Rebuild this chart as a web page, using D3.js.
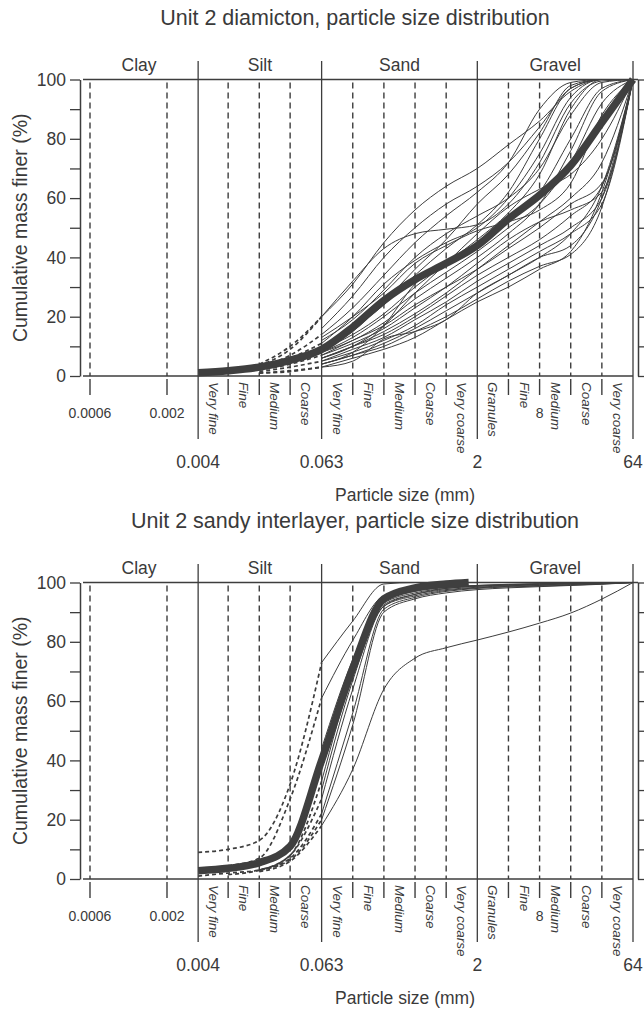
<!DOCTYPE html>
<html>
<head>
<meta charset="utf-8">
<script src="https://cdn.jsdelivr.net/npm/d3@7"></script>
<style>
body { margin: 0; background: #fff; }
text { font-family: "Liberation Sans", Arial, sans-serif; fill: #3a3a3a; }
</style>
</head>
<body>
<script>
var width = 644,
    height = 1009;

// sieve sizes (mm) the curves are read at
var sizes = [0.004, 0.0078, 0.0156, 0.031, 0.0625, 0.125, 0.25, 0.5, 1, 2, 4, 8, 16, 32, 64];

// unit 2 diamicton, cumulative % finer (null = not measured)
var diamictonSamples = [
  [null, null, 4, 10, 20, 32, 43, 48, 49.5, 51, 58, 72, 92, 99.5, 100],
  [null, null, 3.5, 9, 20, 31, 45, 56, 64, 70, 78, 86, 96, 100, 100],
  [null, null, 3, 7, 14, 23, 34, 45, 54, 62, 72, 90, 99, 100, 100],
  [null, null, null, null, 12, 19, 29, 40, 48, 54, 60, 70, 88, 99, 100],
  [null, null, null, null, 10, 16, 24, 34, 43, 51, 62, 80, 97, 100, 100],
  [null, null, null, null, 9, 14, 21, 30, 38, 46, 55, 68, 90, 100, 100],
  [null, null, null, null, 8, 13, 20, 28, 35, 42, 50, 58, 72, 92, 100],
  [null, null, null, null, 8, 12, 18, 26, 33, 40, 48, 58, 76, 96, 100],
  [null, null, 2, 4, 7, 12, 17, 24, 30, 36, 43, 50, 58, 65, 100],
  [null, null, null, null, 7, 11, 16, 23, 30, 38, 46, 52, 56, 62, 100],
  [null, null, null, null, 6, 10, 15, 21, 28, 36, 44, 52, 60, 72, 100],
  [null, null, null, null, 6, 10, 14, 20, 27, 34, 40, 46, 54, 64, 100],
  [null, null, null, null, 5, 9, 13, 19, 25, 32, 38, 44, 50, 60, 100],
  [null, null, 1.5, 3, 5, 8, 12, 17, 24, 30, 36, 42, 48, 58, 100],
  [null, null, null, null, 4, 7, 11, 16, 22, 28, 34, 40, 44, 60, 100],
  [null, null, null, null, 4, 7, 10, 15, 20, 26, 32, 37, 41, 57, 100],
  [null, null, 1, 1.5, 3, 6, 9, 13, 19, 25, 30, 36, 42, 62, 100],
  [null, null, 1, 1.8, 3, 5, 12.5, 15, 19, 28, 34, 40, 48, 64, 100],
  [null, null, null, null, 4, 8, 17, 31, 38, 44, 52, 62, 80, 97, 100],
  [null, null, 2.5, 6, 11, 20, 31, 39, 45, 50, 60, 75, 94, 100, 100],
  [null, null, null, null, 9, 15, 25, 36, 46, 58, 68, 82, 98, 100, 100],
  [null, null, null, null, 6, 10, 17, 28, 38, 48, 57, 63, 68, 80, 100],
  [null, null, null, null, 16, 27, 40, 50, 58, 64, 72, 84, 97, 100, 100],
  [null, null, null, null, 13, 20, 28, 38, 44, 49, 52, 56, 65, 88, 100]
];
var diamictonMeanSizes = [0.004, 0.0078, 0.0156, 0.031, 0.0625, 0.125, 0.25, 0.5, 1, 2, 4, 8, 16, 32, 64];
var diamictonMean = [1.1, 1.8, 3, 5.3, 9, 16.5, 25.5, 32.5, 38, 44, 53, 61, 71, 85.5, 100];

// unit 2 sandy interlayer
var sandySamples = [
  [9, 10, 13, 32, 73, 87, 99.5, 100, 100, 100, 100, 100, 100, 100, 100],
  [null, 4.5, 7, 27, 61, 80.5, 95.5, 97.5, 98.5, 99, 99.4, 99.6, 99.8, 99.9, 100],
  [null, null, null, null, 44, 74, 94, 97, 98.3, 99, 99.3, 99.5, 99.7, 99.9, 100],
  [null, null, null, null, 40, 71, 93, 96.5, 98, 98.7, 99.1, 99.4, 99.6, 99.8, 100],
  [null, null, 3, 8, 33, 69, 92.5, 96, 97.6, 98.4, 98.9, 99.2, 99.5, 99.7, 100],
  [null, 1.5, 3, 8, 27, 64, 92, 95.5, 97.3, 98.2, 98.7, 99, 99.3, 99.6, 100],
  [null, null, 3, 7, 22, 56, 91, 95, 97, 98, 98.5, 98.8, 99.1, 99.5, 100],
  [1, 2, 3, 6.5, 20, 52, 90, 94.5, 96.5, 97.6, 98.2, 98.6, 99, 99.4, 100],
  [null, null, 2.5, 6, 18, 37, 64, 74.5, 78, 80.6, 83.3, 86.3, 89.7, 94.4, 100],
  [null, null, null, null, 30, 67, 92, 96, 98, 98.8, 99.2, 99.5, 99.7, 99.9, 100]
];
var sandyMeanSizes = [0.004, 0.0078, 0.0156, 0.031, 0.0625, 0.125, 0.25, 0.5, 1, 1.65];
var sandyMean = [2.8, 3.6, 5.5, 11, 40, 71, 94.5, 98.2, 99.5, 100];

// grain size classes
var classNames = ["Clay", "Silt", "Sand", "Gravel"];
var classEdges = [0.004, 0.0625, 2, 64];
var dashedSizes = [0.0006, 0.002, 0.0078, 0.0156, 0.031, 0.125, 0.25, 0.5, 1, 4, 8, 16, 32];
var subBins = [
  [0.004, 0.0078, "Very fine"], [0.0078, 0.0156, "Fine"], [0.0156, 0.031, "Medium"], [0.031, 0.0625, "Coarse"],
  [0.0625, 0.125, "Very fine"], [0.125, 0.25, "Fine"], [0.25, 0.5, "Medium"], [0.5, 1, "Coarse"], [1, 2, "Very coarse"],
  [2, 4, "Granules"], [4, 8, "Fine"], [8, 16, "Medium"], [16, 32, "Coarse"], [32, 64, "Very coarse"]
];
var smallTicks = [[0.0006, "0.0006"], [0.002, "0.002"], [8, "8"]];
var mainTicks = [[0.004, "0.004"], [0.0625, "0.063"], [2, "2"], [64, "64"]];
var yTicks = [0, 10, 20, 30, 40, 50, 60, 70, 80, 90, 100];

var svg = d3.select("body").append("svg")
  .attr("width", width)
  .attr("height", height);

// the clay part of the axis is squeezed, so the log scale is piecewise
var xScale = d3.scaleLog()
  .domain([0.0006, 0.002, 64])
  .range([90, 167, 633]);
var yScale = d3.scaleLinear()
  .domain([0, 100])
  .range([376, 79.5]);

var ink = "#3d3d3d";

drawPanel(0, "Unit 2 diamicton, particle size distribution", diamictonSamples, diamictonMeanSizes, diamictonMean);
drawPanel(503, "Unit 2 sandy interlayer, particle size distribution", sandySamples, sandyMeanSizes, sandyMean);

function drawPanel(top, title, samples, meanSizes, meanValues) {
  var g = svg.append("g")
    .attr("transform", "translate(0," + top + ")");

  var x0 = 80, yTop = yScale(100), yBot = yScale(0);

  g.append("text")
    .attr("x", 355)
    .attr("y", 25)
    .attr("text-anchor", "middle")
    .style("font-size", "21.5px")
    .text(title);

  // class headers above the frame
  var edgesPx = [x0].concat(classEdges.map(function(d) { return xScale(d); }));
  g.selectAll(".head")
    .data(classNames)
    .enter().append("text")
      .attr("x", function(d, i) { return (edgesPx[i] + edgesPx[i + 1]) / 2; })
      .attr("y", 71)
      .attr("text-anchor", "middle")
      .style("font-size", "17.5px")
      .text(function(d) { return d; });

  // dashed sub-class lines
  g.selectAll(".sub")
    .data(dashedSizes)
    .enter().append("line")
      .attr("x1", function(d) { return xScale(d); })
      .attr("x2", function(d) { return xScale(d); })
      .attr("y1", yTop + 3)
      .attr("y2", yBot)
      .attr("stroke", ink)
      .attr("stroke-width", 1.4)
      .attr("stroke-dasharray", "6,4");
  g.selectAll(".subtick")
    .data(dashedSizes)
    .enter().append("line")
      .attr("x1", function(d) { return xScale(d); })
      .attr("x2", function(d) { return xScale(d); })
      .attr("y1", yBot + 3)
      .attr("y2", yBot + 19)
      .attr("stroke", ink)
      .attr("stroke-width", 1.4);

  // solid class boundaries
  g.selectAll(".edge")
    .data(classEdges)
    .enter().append("line")
      .attr("x1", function(d) { return xScale(d); })
      .attr("x2", function(d) { return xScale(d); })
      .attr("y1", 61)
      .attr("y2", 439)
      .attr("stroke", ink)
      .attr("stroke-width", 1.3);

  // frame lines
  g.append("line")
    .attr("x1", 83).attr("x2", 638)
    .attr("y1", yTop).attr("y2", yTop)
    .attr("stroke", ink).attr("stroke-width", 1.5);
  g.append("line")
    .attr("x1", 83).attr("x2", 633)
    .attr("y1", yBot).attr("y2", yBot)
    .attr("stroke", ink).attr("stroke-width", 1.5);

  var yAxisCall = d3.axisLeft(yScale)
    .tickValues(yTicks)
    .tickSize(10)
    .tickSizeOuter(0)
    .tickPadding(4)
    .tickFormat(function(d) { return d % 20 == 0 ? d : ""; });
  var yAxis = g.append("g")
    .attr("transform", "translate(" + x0 + ",0)")
    .call(yAxisCall);
  yAxis.selectAll("text").style("font-size", "17.5px").attr("fill", "#3a3a3a");

  var rAxis = g.append("g")
    .attr("transform", "translate(638,0)")
    .call(d3.axisRight(yScale).tickValues(yTicks).tickSize(8).tickSizeOuter(0).tickFormat(""));

  [yAxis, rAxis].forEach(function(a) {
    a.select(".domain").attr("stroke", ink).attr("stroke-width", 1.5);
    a.selectAll(".tick line").attr("stroke", ink).attr("stroke-width", 1.3);
  });

  // rotated sub-class names
  g.selectAll(".binlab")
    .data(subBins)
    .enter().append("text")
      .attr("transform", function(d) {
        var cx = (xScale(d[0]) + xScale(d[1])) / 2;
        return "translate(" + cx + "," + (yBot + 6) + ") rotate(90)";
      })
      .attr("dominant-baseline", "central")
      .style("font-size", "13.5px")
      .style("font-style", "italic")
      .text(function(d) { return d[2]; });

  g.selectAll(".smalltick")
    .data(smallTicks)
    .enter().append("text")
      .attr("x", function(d) { return xScale(d[0]); })
      .attr("y", 418)
      .attr("text-anchor", "middle")
      .style("font-size", "14px")
      .text(function(d) { return d[1]; });

  g.selectAll(".maintick")
    .data(mainTicks)
    .enter().append("text")
      .attr("x", function(d) { return xScale(d[0]); })
      .attr("y", 468)
      .attr("text-anchor", "middle")
      .style("font-size", "17.5px")
      .text(function(d) { return d[1]; });

  g.append("text")
    .attr("x", 405)
    .attr("y", 501)
    .attr("text-anchor", "middle")
    .style("font-size", "17.5px")
    .text("Particle size (mm)");

  g.append("text")
    .attr("transform", "translate(20," + ((yTop + yBot) / 2) + ") rotate(-90)")
    .attr("text-anchor", "middle")
    .attr("dominant-baseline", "central")
    .style("font-size", "19.5px")
    .text("Cumulative mass finer (%)");

  // sample curves: dashed where extrapolated into silt, solid from 0.063 mm
  var line = d3.line()
    .defined(function(d) { return d[1] != null; })
    .x(function(d) { return xScale(d[0]); })
    .y(function(d) { return yScale(d[1]); })
    .curve(d3.curveMonotoneX);

  samples.forEach(function(vals) {
    var pts = sizes.map(function(s, i) { return [s, vals[i]]; });
    var silt = pts.slice(0, 5).filter(function(d) { return d[1] != null; });
    if (silt.length > 1) {
      g.append("path")
        .attr("d", line(silt))
        .attr("fill", "none")
        .attr("stroke", ink)
        .attr("stroke-width", 1.7)
        .attr("stroke-dasharray", "4,3");
    }
    g.append("path")
      .attr("d", line(pts.slice(4)))
      .attr("fill", "none")
      .attr("stroke", ink)
      .attr("stroke-width", 1);
  });

  g.append("path")
    .attr("d", line(meanSizes.map(function(s, i) { return [s, meanValues[i]]; })))
    .attr("fill", "none")
    .attr("stroke", "#3f3f3f")
    .attr("stroke-width", 7.5);
}
</script>
</body>
</html>
